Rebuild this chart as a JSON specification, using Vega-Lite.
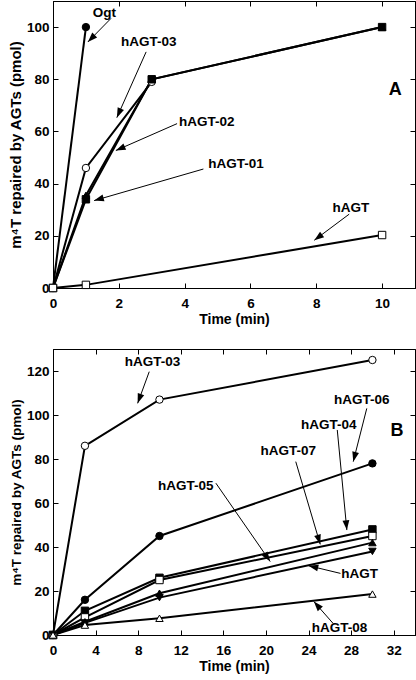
{
  "$schema": "https://vega.github.io/schema/vega-lite/v6.json",
  "padding": {"left": 7, "top": 0, "right": 1, "bottom": 2},
  "background": "white",
  "config": {
    "view": {"stroke": "black", "strokeWidth": 1},
    "axis": {
      "labelFont": "Liberation Sans", "labelFontWeight": "bold", "labelFontSize": 13.5, "labelColor": "black",
      "titleFont": "Liberation Sans", "titleFontWeight": "bold", "titleFontSize": 14, "titleColor": "black",
      "tickSize": -5, "tickColor": "black", "tickWidth": 1, "domainColor": "black", "domainWidth": 1,
      "grid": false, "labelFlush": false, "labelOverlap": false
    },
    "axisX": {"labelPadding": 13},
    "axisY": {"labelPadding": 9},
    "text": {"font": "Liberation Sans", "fontWeight": "bold", "fontSize": 13.5, "color": "black"}
  },
  "datasets": {
    "seriesA": [
      {"series": "Ogt", "t": 0, "v": 0}, {"series": "Ogt", "t": 1, "v": 100},
      {"series": "hAGT-03", "t": 0, "v": 0}, {"series": "hAGT-03", "t": 1, "v": 46}, {"series": "hAGT-03", "t": 3, "v": 79},
      {"series": "hAGT-02", "t": 0, "v": 0}, {"series": "hAGT-02", "t": 1, "v": 35.5}, {"series": "hAGT-02", "t": 3, "v": 80}, {"series": "hAGT-02", "t": 10, "v": 100},
      {"series": "hAGT-01", "t": 0, "v": 0}, {"series": "hAGT-01", "t": 1, "v": 34}, {"series": "hAGT-01", "t": 3, "v": 80}, {"series": "hAGT-01", "t": 10, "v": 100},
      {"series": "hAGT", "t": 0, "v": 0}, {"series": "hAGT", "t": 1, "v": 1.2}, {"series": "hAGT", "t": 10, "v": 20.3}
    ],
    "annA": [
      {"label": "Ogt", "lx": 1.56, "ly": 105.5, "sx": 1.76, "sy": 103.3, "tx": 1.06, "ty": 94.3},
      {"label": "hAGT-03", "lx": 2.91, "ly": 94.3, "sx": 2.83, "sy": 90.5, "tx": 1.94, "ty": 65.3},
      {"label": "hAGT-02", "lx": 4.67, "ly": 63.8, "sx": 3.77, "sy": 63.0, "tx": 1.91, "ty": 52.7},
      {"label": "hAGT-01", "lx": 5.56, "ly": 47.6, "sx": 4.57, "sy": 45.6, "tx": 1.25, "ty": 33.5},
      {"label": "hAGT", "lx": 9.05, "ly": 30.6, "sx": 9.0, "sy": 28.3, "tx": 7.94, "ty": 18.3}
    ],
    "letterA": [{"label": "A", "x": 10.4, "y": 76}],
    "seriesB": [
      {"series": "hAGT-03", "t": 0, "v": 0}, {"series": "hAGT-03", "t": 3, "v": 86}, {"series": "hAGT-03", "t": 10, "v": 107}, {"series": "hAGT-03", "t": 30, "v": 125},
      {"series": "hAGT-06", "t": 0, "v": 0}, {"series": "hAGT-06", "t": 3, "v": 16}, {"series": "hAGT-06", "t": 10, "v": 45}, {"series": "hAGT-06", "t": 30, "v": 78},
      {"series": "hAGT-04", "t": 0, "v": 0}, {"series": "hAGT-04", "t": 3, "v": 11}, {"series": "hAGT-04", "t": 10, "v": 26}, {"series": "hAGT-04", "t": 30, "v": 48},
      {"series": "hAGT-07", "t": 0, "v": 0}, {"series": "hAGT-07", "t": 3, "v": 8}, {"series": "hAGT-07", "t": 10, "v": 25}, {"series": "hAGT-07", "t": 30, "v": 45},
      {"series": "hAGT-05", "t": 0, "v": 0}, {"series": "hAGT-05", "t": 3, "v": 6}, {"series": "hAGT-05", "t": 10, "v": 19}, {"series": "hAGT-05", "t": 30, "v": 42},
      {"series": "hAGT", "t": 0, "v": 0}, {"series": "hAGT", "t": 3, "v": 5.5}, {"series": "hAGT", "t": 10, "v": 17}, {"series": "hAGT", "t": 30, "v": 38},
      {"series": "hAGT-08", "t": 0, "v": 0}, {"series": "hAGT-08", "t": 3, "v": 4.5}, {"series": "hAGT-08", "t": 10, "v": 7.6}, {"series": "hAGT-08", "t": 30, "v": 18.6}
    ],
    "annB": [
      {"label": "hAGT-03", "lx": 9.35, "ly": 124.3, "sx": 9.04, "sy": 119.7, "tx": 7.95, "ty": 105.3},
      {"label": "hAGT-06", "lx": 29.0, "ly": 106.8, "sx": 29.47, "sy": 103.0, "tx": 28.2, "ty": 78.8},
      {"label": "hAGT-04", "lx": 25.9, "ly": 95.5, "sx": 26.7, "sy": 93.2, "tx": 27.6, "ty": 47.7},
      {"label": "hAGT-07", "lx": 22.1, "ly": 83.8, "sx": 22.8, "sy": 78.8, "tx": 25.1, "ty": 41.2},
      {"label": "hAGT-05", "lx": 12.46, "ly": 67.6, "sx": 15.3, "sy": 69.0, "tx": 20.4, "ty": 33.4},
      {"label": "hAGT", "lx": 28.8, "ly": 27.6, "sx": 27.0, "sy": 28.0, "tx": 24.0, "ty": 31.5},
      {"label": "hAGT-08", "lx": 26.9, "ly": 3.0, "sx": 26.3, "sy": 5.3, "tx": 24.5, "ty": 15.2}
    ],
    "letterB": [{"label": "B", "x": 32.3, "y": 92.9}]
  },
  "spacing": 21,
  "resolve": {"scale": {"x": "independent", "y": "independent", "shape": "independent", "fill": "independent"}},
  "vconcat": [
    {
      "width": 362, "height": 287,
      "resolve": {"axis": {"x": "independent", "y": "independent"}},
      "layer": [
        {
          "data": {"name": "seriesA"},
          "mark": {"type": "line", "color": "black", "strokeWidth": 2},
          "encoding": {
            "x": {"field": "t", "type": "quantitative", "scale": {"domain": [0, 11], "nice": false, "zero": false},
                  "axis": {"title": "Time (min)", "values": [0, 2, 4, 6, 8, 10], "titlePadding": 3}},
            "y": {"field": "v", "type": "quantitative", "scale": {"domain": [0, 110], "nice": false},
                  "axis": {"title": "m⁴T repaired by AGTs (pmol)", "values": [0, 20, 40, 60, 80, 100], "titleFontSize": 15, "titlePadding": 3}},
            "detail": {"field": "series"}
          }
        },
        {
          "data": {"name": "seriesA"},
          "mark": {"type": "point", "filled": true, "stroke": "black", "strokeWidth": 1, "size": 55, "opacity": 1},
          "encoding": {
            "x": {"field": "t", "type": "quantitative", "axis": null},
            "y": {"field": "v", "type": "quantitative", "axis": null},
            "shape": {"field": "series", "type": "nominal", "legend": null,
                      "scale": {"domain": ["Ogt", "hAGT-03", "hAGT-02", "hAGT-01", "hAGT"], "range": ["circle", "circle", "triangle-up", "square", "square"]}},
            "fill": {"field": "series", "type": "nominal", "legend": null,
                     "scale": {"domain": ["Ogt", "hAGT-03", "hAGT-02", "hAGT-01", "hAGT"], "range": ["black", "white", "black", "black", "white"]}}
          }
        },
        {
          "data": {"name": "annA"},
          "mark": {"type": "rule", "color": "black", "strokeWidth": 1},
          "encoding": {
            "x": {"field": "sx", "type": "quantitative", "axis": null},
            "y": {"field": "sy", "type": "quantitative", "axis": null},
            "x2": {"field": "tx"},
            "y2": {"field": "ty"}
          }
        },
        {
          "data": {"name": "annA"},
          "transform": [{"calculate": "atan2((datum.tx - datum.sx) * 32.9, (datum.ty - datum.sy) * 2.61) * 180 / PI", "as": "ang"}],
          "mark": {"type": "point", "shape": "M0,0L-0.35,1L0.35,1Z", "filled": true, "color": "black", "size": 380, "opacity": 1},
          "encoding": {
            "x": {"field": "tx", "type": "quantitative", "axis": null},
            "y": {"field": "ty", "type": "quantitative", "axis": null},
            "angle": {"field": "ang", "type": "quantitative", "scale": null}
          }
        },
        {
          "data": {"name": "annA"},
          "mark": {"type": "text", "align": "center", "baseline": "middle"},
          "encoding": {
            "x": {"field": "lx", "type": "quantitative", "axis": null},
            "y": {"field": "ly", "type": "quantitative", "axis": null},
            "text": {"field": "label"}
          }
        },
        {
          "data": {"name": "letterA"},
          "mark": {"type": "text", "align": "center", "baseline": "middle", "fontSize": 18},
          "encoding": {
            "x": {"field": "x", "type": "quantitative", "axis": null},
            "y": {"field": "y", "type": "quantitative", "axis": null},
            "text": {"field": "label"}
          }
        },
        {
          "data": {"name": "seriesA"},
          "mark": {"type": "point", "opacity": 0},
          "encoding": {
            "x": {"field": "t", "type": "quantitative", "axis": {"orient": "top", "labels": false, "title": null, "values": [0, 2, 4, 6, 8, 10]}},
            "y": {"field": "v", "type": "quantitative", "axis": {"orient": "right", "labels": false, "title": null, "values": [0, 20, 40, 60, 80, 100]}}
          }
        }
      ]
    },
    {
      "width": 362, "height": 286,
      "resolve": {"axis": {"x": "independent", "y": "independent"}},
      "layer": [
        {
          "data": {"name": "seriesB"},
          "mark": {"type": "line", "color": "black", "strokeWidth": 2},
          "encoding": {
            "x": {"field": "t", "type": "quantitative", "scale": {"domain": [0, 34], "nice": false, "zero": false},
                  "axis": {"title": "Time (min)", "values": [0, 4, 8, 12, 16, 20, 24, 28, 32], "titlePadding": 3}},
            "y": {"field": "v", "type": "quantitative", "scale": {"domain": [0, 130], "nice": false},
                  "axis": {"title": "m⁴T repaired by AGTs (pmol)", "values": [0, 20, 40, 60, 80, 100, 120], "titleFontSize": 13.5, "titlePadding": 3}},
            "detail": {"field": "series"}
          }
        },
        {
          "data": {"name": "seriesB"},
          "mark": {"type": "point", "filled": true, "stroke": "black", "strokeWidth": 1, "size": 55, "opacity": 1},
          "encoding": {
            "x": {"field": "t", "type": "quantitative", "axis": null},
            "y": {"field": "v", "type": "quantitative", "axis": null},
            "shape": {"field": "series", "type": "nominal", "legend": null,
                      "scale": {"domain": ["hAGT-03", "hAGT-06", "hAGT-04", "hAGT-07", "hAGT-05", "hAGT", "hAGT-08"], "range": ["circle", "circle", "square", "square", "triangle-up", "triangle-down", "triangle-up"]}},
            "fill": {"field": "series", "type": "nominal", "legend": null,
                     "scale": {"domain": ["hAGT-03", "hAGT-06", "hAGT-04", "hAGT-07", "hAGT-05", "hAGT", "hAGT-08"], "range": ["white", "black", "black", "white", "black", "black", "white"]}}
          }
        },
        {
          "data": {"name": "annB"},
          "mark": {"type": "rule", "color": "black", "strokeWidth": 1},
          "encoding": {
            "x": {"field": "sx", "type": "quantitative", "axis": null},
            "y": {"field": "sy", "type": "quantitative", "axis": null},
            "x2": {"field": "tx"},
            "y2": {"field": "ty"}
          }
        },
        {
          "data": {"name": "annB"},
          "transform": [{"calculate": "atan2((datum.tx - datum.sx) * 10.65, (datum.ty - datum.sy) * 2.2) * 180 / PI", "as": "ang"}],
          "mark": {"type": "point", "shape": "M0,0L-0.35,1L0.35,1Z", "filled": true, "color": "black", "size": 380, "opacity": 1},
          "encoding": {
            "x": {"field": "tx", "type": "quantitative", "axis": null},
            "y": {"field": "ty", "type": "quantitative", "axis": null},
            "angle": {"field": "ang", "type": "quantitative", "scale": null}
          }
        },
        {
          "data": {"name": "annB"},
          "mark": {"type": "text", "align": "center", "baseline": "middle"},
          "encoding": {
            "x": {"field": "lx", "type": "quantitative", "axis": null},
            "y": {"field": "ly", "type": "quantitative", "axis": null},
            "text": {"field": "label"}
          }
        },
        {
          "data": {"name": "letterB"},
          "mark": {"type": "text", "align": "center", "baseline": "middle", "fontSize": 18},
          "encoding": {
            "x": {"field": "x", "type": "quantitative", "axis": null},
            "y": {"field": "y", "type": "quantitative", "axis": null},
            "text": {"field": "label"}
          }
        },
        {
          "data": {"name": "seriesB"},
          "mark": {"type": "point", "opacity": 0},
          "encoding": {
            "x": {"field": "t", "type": "quantitative", "axis": {"orient": "top", "labels": false, "title": null, "values": [0, 4, 8, 12, 16, 20, 24, 28, 32]}},
            "y": {"field": "v", "type": "quantitative", "axis": {"orient": "right", "labels": false, "title": null, "values": [0, 20, 40, 60, 80, 100, 120]}}
          }
        }
      ]
    }
  ]
}
